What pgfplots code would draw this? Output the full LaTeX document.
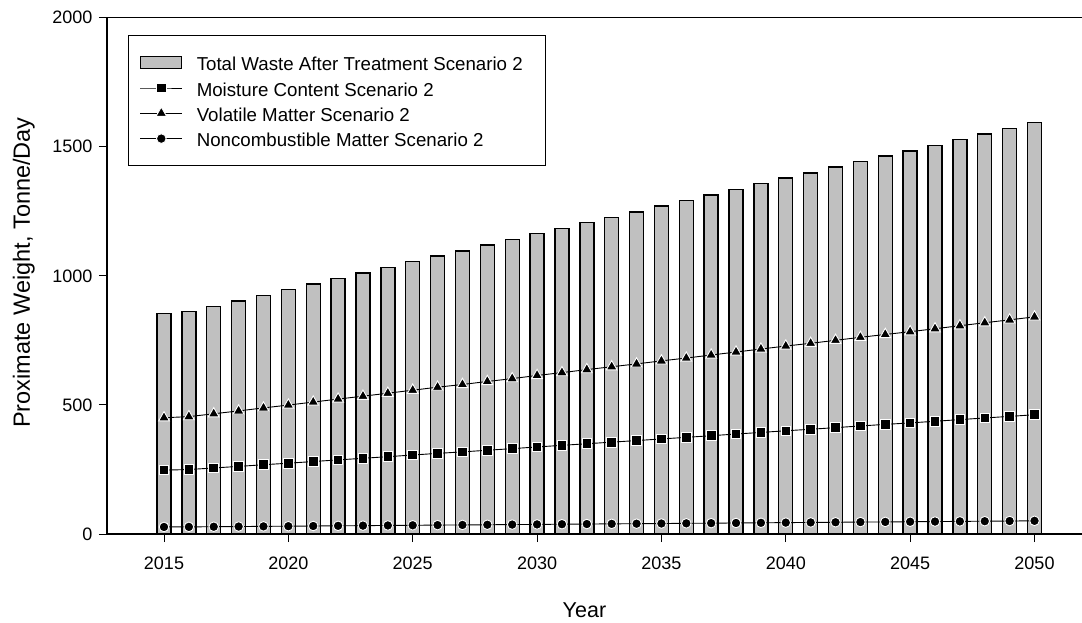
\documentclass[border=0pt]{standalone}
\usepackage{pgfplots}
\usepackage{pgfplotstable}
\pgfplotsset{compat=1.18}
\usepackage{fontspec}
\setmainfont{Liberation Sans}
\definecolor{bargray}{RGB}{192,192,192}

\pgfplotstableread{
year total moist vol nonc
2015 853 247.4 450.4 27.3
2016 861 249.7 454.6 27.6
2017 882 255.8 465.7 28.2
2018 903 261.9 476.8 28.9
2019 925 268.3 488.4 29.6
2020 946 274.3 499.5 30.3
2021 968 280.7 511.1 31.0
2022 990 287.1 522.7 31.7
2023 1011 293.2 533.8 32.4
2024 1033 299.6 545.4 33.1
2025 1055 306.0 557.0 33.8
2026 1077 312.3 568.7 34.5
2027 1097 318.1 579.2 35.1
2028 1119 324.5 590.8 35.8
2029 1140 330.6 601.9 36.5
2030 1163 337.3 614.1 37.2
2031 1184 343.4 625.2 37.9
2032 1206 349.7 636.8 38.6
2033 1227 355.8 647.9 39.3
2034 1248 361.9 658.9 39.9
2035 1270 368.3 670.6 40.6
2036 1291 374.4 681.6 41.3
2037 1313 380.8 693.3 42.0
2038 1335 387.2 704.9 42.7
2039 1357 393.5 716.5 43.4
2040 1379 399.9 728.1 44.1
2041 1399 405.7 738.7 44.8
2042 1421 412.1 750.3 45.5
2043 1443 418.5 761.9 46.2
2044 1464 424.6 773.0 46.8
2045 1484 430.4 783.6 47.5
2046 1506 436.7 795.2 48.2
2047 1528 443.1 806.8 48.9
2048 1550 449.5 818.4 49.6
2049 1571 455.6 829.5 50.3
2050 1593 462.0 841.1 51.0
}\datatable

\pgfplotsset{
  linelegend/.style={legend image code/.code={%
    \draw[mark repeat=2,mark phase=2,##1] plot coordinates {(0pt,0pt) (21pt,0pt) (42pt,0pt)};}},
}

\begin{document}
\begin{tikzpicture}
\begin{axis}[
  at={(0,0)}, anchor=south west,
  scale only axis, width=975pt, height=516.3pt,
  xmin=2012.708, xmax=2051.91, ymin=0, ymax=2000,
  axis lines*=left,
  axis line style={line width=1.2pt, black},
  tick style={line width=1pt, black},
  major tick length=8pt,
  tick align=outside,
  xtick={2015,2020,...,2050},
  ytick={0,500,...,2000},
  minor tick num=0,
  /pgf/number format/1000 sep={},
  /pgf/number format/assume math mode=true,
  tick label style={font=\fontsize{18}{20}\selectfont},
  xticklabel style={yshift=-11pt},
  yticklabel style={xshift=-3pt},
  xlabel={Year}, ylabel={Proximate Weight, Tonne/Day},
  every axis x label/.style={at={(rel axis cs:0.4897,-0.1608)}, anchor=base, font=\fontsize{21.5}{24}\selectfont},
  every axis y label/.style={at={(rel axis cs:-0.079,0.5065)}, rotate=90, anchor=base, font=\fontsize{23.5}{26}\selectfont},
  clip=false,
  legend cell align=left,
  legend style={at={(0.0212,0.9665)}, anchor=north west, draw=black, line width=0.9pt,
    font=\fontsize{18.7}{22}\selectfont, inner xsep=11.6pt, inner ysep=17pt,
    row sep=4.8pt, column sep=12pt,
    nodes={inner sep=2pt, text height=16.5pt, text depth=0pt}},
]
\addplot[ybar, bar width=14pt, fill=bargray, draw=black, line width=1.4pt,
  legend image code/.code={\draw[fill=bargray, draw=black, line width=1.2pt] (0pt,-6pt) rectangle (41pt,6pt);}]
  table[x=year, y=total] {\datatable};
\addlegendentry{Total Waste After Treatment Scenario 2\rule{9pt}{0pt}}
\addplot[black, line width=0.9pt, mark=square*, mark size=4.8pt,
  mark options={fill=black, draw=white, line width=0.9pt}, linelegend]
  table[x=year, y=moist] {\datatable};
\addlegendentry{Moisture Content Scenario 2}
\addplot[black, line width=0.9pt, mark=triangle*, mark size=6.2pt,
  mark options={fill=black, draw=white, line width=0.9pt}, linelegend]
  table[x=year, y=vol] {\datatable};
\addlegendentry{Volatile Matter Scenario 2}
\addplot[black, line width=0.9pt, mark=*, mark size=4.8pt,
  mark options={fill=black, draw=white, line width=0.9pt}, linelegend]
  table[x=year, y=nonc] {\datatable};
\addlegendentry{Noncombustible Matter Scenario 2}
\draw[line width=1.2pt, black] (rel axis cs:0,1) -- (rel axis cs:1,1);
\end{axis}
\pgfresetboundingbox
\path[use as bounding box] (-107pt,-88pt) rectangle (975pt,534pt);
\end{tikzpicture}
\end{document}
